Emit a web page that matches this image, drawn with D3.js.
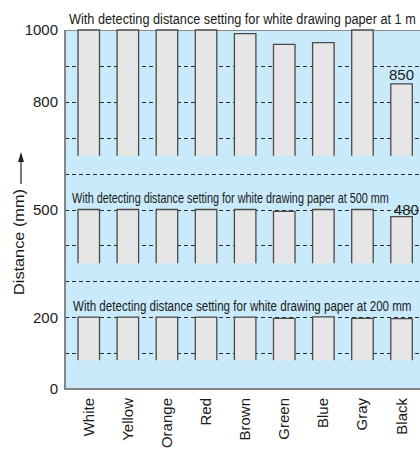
<!DOCTYPE html>
<html><head><meta charset="utf-8">
<script src="https://cdn.jsdelivr.net/npm/d3@7"></script>
<style>html,body{margin:0;padding:0;background:#fff;}svg{display:block;}</style>
</head><body>
<svg id="c" width="420" height="449"></svg>
<script>
const categories = ["White","Yellow","Orange","Red","Brown","Green","Blue","Gray","Black"];
const values1m  = [1000,1000,1000,1000,990,960,965,1000,850];
const values500 = [500,500,500,500,500,495,500,500,480];
const values200 = [200,200,200,200,200,197,201,197,196];
const groupBases = [650,350,80];
const groupTitles = [
  "With detecting distance setting for white drawing paper at 1 m",
  "With detecting distance setting for white drawing paper at 500 mm",
  "With detecting distance setting for white drawing paper at 200 mm"
];
const yTickValues = [0,200,500,800,1000];
const gridValues = [100,200,300,400,500,600,700,800,900];
const valueLabels = [{group:0, cat:"Black", text:"850"},{group:1, cat:"Black", text:"480"}];

const svg = d3.select("#c");
const L = 65, R = 420, T = 30, B = 389;
const y = d3.scaleLinear().domain([0,1000]).range([B,T]);
const x = d3.scaleBand().domain(categories).range([69.2,421.1]).paddingInner(0.45).paddingOuter(0.225);

// background
svg.append("rect").attr("x",L).attr("y",T).attr("width",R-L).attr("height",B-T).attr("fill","#c9eafb");

// grid
svg.append("g").selectAll("line").data(gridValues).join("line")
  .attr("x1",L).attr("x2",R).attr("y1",d=>Math.round(y(d))+0.5).attr("y2",d=>Math.round(y(d))+0.5)
  .attr("stroke","#2a2a2a").attr("stroke-width",1).attr("stroke-dasharray","4,3");
// top border
svg.append("line").attr("x1",L).attr("x2",R).attr("y1",T+0.5).attr("y2",T+0.5).attr("stroke","#8a8a8a").attr("stroke-width",1);

// bars
const groups = [values1m, values500, values200];
groups.forEach((vals,gi)=>{
  const base = groupBases[gi];
  const g = svg.append("g");
  const data = categories.map((c,i)=>({c, v:vals[i]}));
  g.selectAll("rect").data(data).join("rect")
    .attr("x",d=>x(d.c)).attr("width",x.bandwidth())
    .attr("y",d=>y(d.v)).attr("height",d=>y(base)-y(d.v))
    .attr("fill","#e6e6e7");
  g.selectAll("path").data(data).join("path")
    .attr("d",d=>{const x0=x(d.c), x1=x(d.c)+x.bandwidth(), yt=y(d.v), yb=y(base);
      return `M${x0},${yb}L${x0},${yt}L${x1},${yt}L${x1},${yb}`;})
    .attr("fill","none").attr("stroke","#4a4a4a").attr("stroke-width",1.3);
});

// group titles (horizontally condensed to match the reference's narrow type)
const titlePos = [{x:69,y:23.5,len:347,fs:14.5},{x:72,y:203,len:317,fs:14.5},{x:73,y:311,len:339,fs:14.5}];
groupTitles.forEach((t,i)=>{
  const p = titlePos[i];
  const tx = svg.append("text").attr("x",0).attr("y",0)
    .attr("font-family","'Liberation Sans Narrow','Liberation Sans',Arial,sans-serif")
    .attr("font-size",p.fs).attr("fill","#1a1a1a").text(t);
  const w = tx.node().getComputedTextLength();
  tx.attr("transform",`translate(${p.x},${p.y}) scale(${p.len/w},1)`);
});

// value labels
const lblData = valueLabels.map(d=>({...d, v: groups[d.group][categories.indexOf(d.cat)]}));
svg.append("g").selectAll("text").data(lblData).join("text")
  .attr("x",(d,i)=> i===0 ? x(d.cat)+x.bandwidth()/2 : x(d.cat)+3)
  .attr("y",(d,i)=> i===0 ? y(d.v)-4 : y(d.v)-2)
  .attr("text-anchor",(d,i)=> i===0 ? "middle" : "start")
  .attr("font-family","'Liberation Sans',Arial,sans-serif").attr("font-size",15).attr("fill","#1a1a1a")
  .text(d=>d.text);

// axes lines
svg.append("line").attr("x1",L).attr("x2",L).attr("y1",T).attr("y2",B+1).attr("stroke","#858585").attr("stroke-width",2);
svg.append("line").attr("x1",L).attr("x2",R).attr("y1",B).attr("y2",B).attr("stroke","#858585").attr("stroke-width",2);

// y tick labels
svg.append("g").selectAll("text").data(yTickValues).join("text")
  .attr("x",58).attr("y",d=>y(d)).attr("dy","0.36em").attr("text-anchor","end")
  .attr("font-family","'Liberation Sans',Arial,sans-serif").attr("font-size",15).attr("fill","#1a1a1a")
  .text(d=>d);

// x labels
svg.append("g").selectAll("text").data(categories).join("text")
  .attr("transform",d=>`translate(${x(d)+x.bandwidth()/2+5},398) rotate(-90)`)
  .attr("text-anchor","end")
  .attr("font-family","'Liberation Sans',Arial,sans-serif").attr("font-size",15).attr("fill","#1a1a1a")
  .text(d=>d);

// y axis title and arrow
const yt = svg.append("text").attr("x",0).attr("y",0)
  .attr("font-family","'Liberation Sans',Arial,sans-serif").attr("font-size",15).attr("fill","#1a1a1a")
  .text("Distance (mm)");
const ytw = yt.node().getComputedTextLength();
yt.attr("transform",`translate(24,295) rotate(-90) scale(${106/ytw},1)`);
svg.append("line").attr("x1",21).attr("x2",21).attr("y1",184).attr("y2",160).attr("stroke","#222").attr("stroke-width",1.2);
svg.append("path").attr("d","M21,152L18,162L24,162Z").attr("fill","#222");
</script>
</body></html>
